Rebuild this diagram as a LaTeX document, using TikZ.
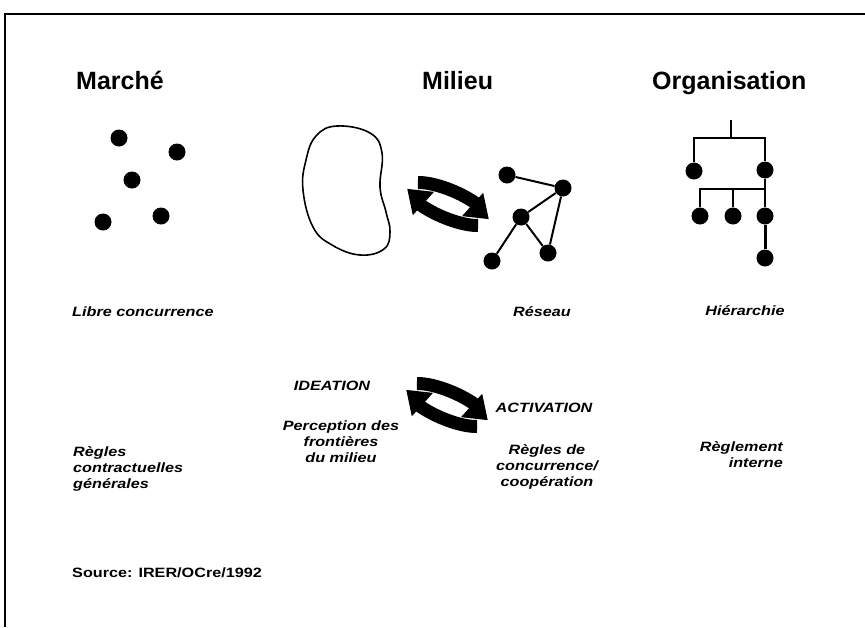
\documentclass[tikz,border=0pt]{standalone}
\usepackage{fontspec}
\setmainfont{Liberation Sans}
\newfontfamily\labfont[FakeStretch=1.2]{Liberation Sans}
\usetikzlibrary{arrows.meta,bending}

\begin{document}
\begin{tikzpicture}[x=1pt,y=-1pt,
  dot/.style={circle,fill=black,inner sep=0pt,minimum size=17pt},
  heading/.style={font=\fontsize{25}{30}\selectfont\bfseries,inner sep=0pt,anchor=base west},
  lab/.style={font=\labfont\fontsize{13.5}{16}\selectfont\bfseries\itshape,inner sep=0pt},
  link/.style={line width=2pt},
  frame/.style={line width=2pt},
  cyc/.style={line width=13pt,-{Triangle[length=22pt,width=30pt,flex]}},
  % two clockwise arrows on a flat ellipse (angles in page orientation)
  cyclearrows/.pic={
    \draw[cyc] (145:44pt and 14pt) arc[start angle=145,end angle=8,x radius=44pt,y radius=14pt];
    \draw[cyc] (325:44pt and 14pt) arc[start angle=325,end angle=188,x radius=44pt,y radius=14pt];
  }]
\useasboundingbox (0,0) rectangle (865,627);

% frame
\coordinate (ftl) at (5,14);
\coordinate (ftr) at (865,14);
\coordinate (fbl) at (5,627);
\draw[frame] (ftr) -- (ftl) -- (fbl);

% headings
\node[heading] (hm) at (76,89) {Marché};
\node[heading] (hmi) at (422,89) {Milieu};
\node[heading] (ho) at (652,89) {Organisation};

% market: scattered points
\node[dot] (m1) at (119,138) {};
\node[dot] (m2) at (177,152) {};
\node[dot] (m3) at (132,180) {};
\node[dot] (m4) at (103,222) {};
\node[dot] (m5) at (161,216) {};

% milieu: boundary blob
\draw[line width=1.6pt] plot[smooth cycle,tension=0.7] coordinates {
  (337,126) (370,133) (382,153) (380,187) (386,212) (390,232) (384,249)
  (360,255) (332,245) (313,227) (303,190) (306,160) (316,136)};

% milieu: cycle arrows
\pic[rotate=-23] at (448,204) {cyclearrows};

% network
\node[dot] (r1) at (507,175) {};
\node[dot] (r2) at (563,188) {};
\node[dot] (r3) at (521,217) {};
\node[dot] (r4) at (492,261) {};
\node[dot] (r5) at (548,253) {};
\draw[link] (r1) -- (r2);
\draw[link] (r2) -- (r3);
\draw[link] (r2) -- (r5);
\draw[link] (r3) -- (r4);
\draw[link] (r3) -- (r5);

% hierarchy
\coordinate (htop) at (731,120);
\coordinate (hbar) at (731,138);
\coordinate (hbar2) at (765,189);
\node[dot] (h1) at (694,171) {};
\node[dot] (h2) at (765,170) {};
\node[dot] (h3) at (700,216) {};
\node[dot] (h4) at (733,216) {};
\node[dot] (h5) at (765,216) {};
\node[dot] (h6) at (765,258) {};
\draw[link] (htop) -- (hbar);
\draw[link] (h1) |- (hbar) -| (h2);
\draw[link] (h2) -- (h5);
\draw[link] (h3) |- (hbar2);
\draw[link] (h4) -- (h4 |- hbar2);
\draw[line width=3pt] (h5) -- (h6);

% labels under the diagrams
\node[lab,anchor=west] (l1) at (72,312) {Libre concurrence};
\node[lab] (l2) at (542,312) {Réseau};
\node[lab] (l3) at (745,311) {Hiérarchie};

% lower cycle
\node[lab] (id) at (332,386) {IDEATION};
\node[lab] (ac) at (544,408) {ACTIVATION};
\pic[rotate=-23] at (447,405) {cyclearrows};

\node[lab,align=center,anchor=north] (pf) at (341,421) {Perception des\\frontières\\du milieu};
\node[lab,align=center,anchor=north] (rc) at (547,444) {Règles de\\concurrence/\\coopération};
\node[lab,align=left,anchor=north west] (rg) at (73,446) {Règles\\contractuelles\\générales};
\node[lab,align=right,anchor=north east] (ri) at (783,441) {Règlement\\interne};

\node[lab,font=\labfont\fontsize{13.5}{16}\selectfont\bfseries,anchor=west] (src) at (72,573) {Source: IRER/OCre/1992};
\end{tikzpicture}
\end{document}
